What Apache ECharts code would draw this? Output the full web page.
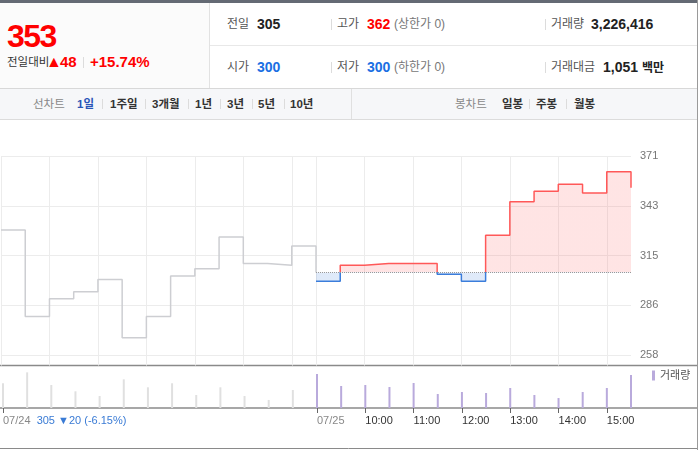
<!DOCTYPE html>
<html><head><meta charset="utf-8">
<script src="https://cdn.jsdelivr.net/npm/echarts@6/dist/echarts.min.js"></script>
<style>
*{margin:0;padding:0;box-sizing:border-box}
body{width:700px;height:450px;background:#fff;font-family:"Liberation Sans","Noto Sans CJK KR",sans-serif;overflow:hidden;position:relative}
.a{position:absolute;white-space:nowrap}
.r1{top:14px;height:20px;line-height:20px}
.r2{top:57px;height:20px;line-height:20px}
.lb{font-size:12px;color:#555}
.v{font-size:14px;font-weight:bold;color:#222}
.sm{font-size:12px;color:#777}
.sep{position:absolute;width:1px;background:#dcdcdc}
.tab{position:absolute;top:96px;height:16px;line-height:16px;font-size:11.5px;font-weight:bold;color:#333;white-space:nowrap}
#chart{position:absolute;left:0;top:120px;width:700px;height:330px}
</style></head><body>
<!-- header -->
<div class="a" style="left:0;top:0;width:698px;height:3px;background:#646a74"></div>
<div class="a" style="left:0;top:3px;width:209px;height:85px;background:#fbfbfb"></div>
<div class="sep" style="left:209px;top:3px;height:85px;background:#e2e2e2"></div>
<div class="sep" style="left:697px;top:0;height:450px;background:#9a9a9a"></div>
<div class="a" style="left:210px;top:45px;width:487px;height:1px;background:#e8e8e8"></div>
<div class="a" style="left:0;top:88px;width:697px;height:1px;background:#d8d8d8"></div>
<div class="a" style="left:0;top:89px;width:697px;height:30px;background:#f6f7f9"></div>
<div class="a" style="left:0;top:119px;width:697px;height:1px;background:#dcdcdc"></div>
<div class="sep" style="left:351px;top:89px;height:30px;background:#e0e0e0"></div>

<div class="a" style="left:7px;top:20px;height:32px;line-height:32px;font-size:32px;font-weight:bold;color:#f00;letter-spacing:-1.5px">353</div>
<div class="a" style="left:7px;top:55px;height:14px;line-height:14px;font-size:11.5px;color:#333">전일대비</div>
<div class="a" style="left:46px;top:53px;height:18px;line-height:18px;font-size:16px;color:#f00">▲</div>
<div class="a" style="left:60px;top:54px;height:16px;line-height:16px;font-size:15px;font-weight:bold;color:#f00">48</div>
<div class="sep" style="left:83px;top:57px;height:11px"></div>
<div class="a" style="left:90px;top:54px;height:16px;line-height:16px;font-size:15px;font-weight:bold;color:#f00">+15.74%</div>

<div class="a r1 lb" style="left:227px">전일</div>
<div class="a r1 v" style="left:257px">305</div>
<div class="sep" style="left:331px;top:19px;height:11px"></div>
<div class="a r1 lb" style="left:337px">고가</div>
<div class="a r1 v" style="left:367px;color:#f00">362</div>
<div class="a r1 sm" style="left:394px">(상한가 0)</div>
<div class="sep" style="left:545px;top:19px;height:11px"></div>
<div class="a r1 lb" style="left:551px">거래량</div>
<div class="a r1 v" style="left:591px">3,226,416</div>

<div class="a r2 lb" style="left:227px">시가</div>
<div class="a r2 v" style="left:257px;color:#1a6fe3">300</div>
<div class="sep" style="left:331px;top:62px;height:11px"></div>
<div class="a r2 lb" style="left:337px">저가</div>
<div class="a r2 v" style="left:367px;color:#1a6fe3">300</div>
<div class="a r2 sm" style="left:394px">(하한가 0)</div>
<div class="sep" style="left:545px;top:62px;height:11px"></div>
<div class="a r2 lb" style="left:551px">거래대금</div>
<div class="a r2 v" style="left:603px">1,051 <span style="font-size:12px">백만</span></div>

<!-- tab bar -->
<div class="tab" style="left:33px;font-weight:normal;color:#888">선차트</div>
<div class="tab" style="left:77px;color:#2a56b8">1일</div>
<div class="sep" style="left:102px;top:99px;height:10px"></div>
<div class="tab" style="left:110px">1주일</div>
<div class="sep" style="left:145px;top:99px;height:10px"></div>
<div class="tab" style="left:152px">3개월</div>
<div class="sep" style="left:188px;top:99px;height:10px"></div>
<div class="tab" style="left:195px">1년</div>
<div class="sep" style="left:220px;top:99px;height:10px"></div>
<div class="tab" style="left:227px">3년</div>
<div class="sep" style="left:252px;top:99px;height:10px"></div>
<div class="tab" style="left:258px">5년</div>
<div class="sep" style="left:284px;top:99px;height:10px"></div>
<div class="tab" style="left:290px">10년</div>
<div class="tab" style="left:455px;font-weight:normal;color:#888">봉차트</div>
<div class="tab" style="left:502px">일봉</div>
<div class="sep" style="left:529px;top:99px;height:10px"></div>
<div class="tab" style="left:536px">주봉</div>
<div class="sep" style="left:566px;top:99px;height:10px"></div>
<div class="tab" style="left:574px">월봉</div>

<div id="chart"></div>
<script>
// ---- data ----
const sessionTimes = ['09:00','09:30','10:00','10:30','11:00','11:30','12:00','12:30','13:00','13:30','14:00','14:30','15:00','15:30'];
const prevDayPrice = [329,280,290,294,301,268,280,303,307,325,310,309,320,305];
const prevDayVolume = [283000,408000,263000,191000,137000,328000,237000,283000,149000,237000,137000,92000,206000,206000];
const todayPrice = [300,309,310,310,310,304,300,326,345,351,355,350,362,353];
const todayVolume = [389000,252000,263000,240000,286000,160000,183000,172000,229000,149000,114000,183000,229000,378000];
const prevClose = 305;
const yTickValues = [258, 286.25, 314.5, 342.75, 371];
const prevDayLabel = '07/24';
const todayLabel = '07/25';
const prevDaySummary = '305 ▼20 (-6.15%)';
const hourLabels = ['10:00','11:00','12:00','13:00','14:00','15:00'];
const gridHours = ['09:00','10:00','11:00','12:00','13:00','14:00','15:00'];

// ---- build ----
const DAY = 390;
const toMin = (t, off) => { const p = t.split(':').map(Number); return off + p[0]*60 + p[1] - 540; };
const prevData = sessionTimes.map((t,i)=>[toMin(t,0), prevDayPrice[i]]);
const todayData = sessionTimes.map((t,i)=>[toMin(t,DAY), todayPrice[i]]);
const prevVol = sessionTimes.map((t,i)=>[toMin(t,0), prevDayVolume[i]]);
const todayVol = sessionTimes.map((t,i)=>[toMin(t,DAY), todayVolume[i]]);
const gridVals = gridHours.map(t=>toMin(t,0)).concat(gridHours.map(t=>toMin(t,DAY)));
const labelMap = {};
labelMap[0] = '{d|' + prevDayLabel + '}  {b|' + prevDaySummary + '}';
labelMap[DAY] = '{d|' + todayLabel + '}';
hourLabels.forEach(h => { labelMap[toMin(h,DAY)] = h; });
const labelVals = Object.keys(labelMap).map(Number).sort((a,b)=>a-b);

const chart = echarts.init(document.getElementById('chart'));
chart.setOption({
  animation: false,
  textStyle: {fontFamily: '"Liberation Sans","Noto Sans CJK KR",sans-serif'},
  grid: [
    {left: 1, top: 36, width: 630, height: 209.5},
    {left: 1, top: 247.8, width: 630, height: 40.2}
  ],
  legend: {
    data: ['거래량'], left: 652, top: 250, icon: 'rect', itemWidth: 3, itemHeight: 10,
    padding: 0, itemGap: 0, selectedMode: false,
    textStyle: {fontSize: 11, color: '#555'}
  },
  xAxis: [
    {type: 'value', gridIndex: 0, min: 0, max: 2*DAY,
     axisLine: {show: false}, axisLabel: {show: false},
     axisTick: {show: false, customValues: gridVals},
     splitLine: {show: true, lineStyle: {color: '#ececec', width: 1}}},
    {type: 'value', gridIndex: 1, min: 0, max: 2*DAY,
     axisLine: {show: false}, splitLine: {show: false},
     axisTick: {show: true, customValues: labelVals, length: 5, lineStyle: {color: '#666', width: 1}},
     axisLabel: {show: true, customValues: labelVals, align: 'left', margin: 7, fontSize: 11, color: '#333',
       formatter: v => labelMap[v] || '',
       rich: {d: {color: '#888', fontSize: 11}, b: {color: '#3a7bd5', fontSize: 11}}}}
  ],
  yAxis: [
    {type: 'value', gridIndex: 0, position: 'right', min: 252.2, max: 371,
     axisLine: {show: false},
     axisTick: {show: false, customValues: yTickValues},
     axisLabel: {customValues: yTickValues, formatter: v => String(Math.round(v)), color: '#777', fontSize: 11, margin: 9},
     splitLine: {show: true, lineStyle: {color: '#ececec', width: 1}}},
    {type: 'value', gridIndex: 1, min: 0, max: 460000, show: false, splitLine: {show: false}}
  ],
  visualMap: {
    type: 'piecewise', show: false, seriesIndex: 1, dimension: 1,
    pieces: [{gte: 0, lt: prevClose, color: '#3b7ddb'}, {gte: prevClose, lte: 100000, color: '#ff5858'}]
  },
  series: [
    {type: 'line', name: 'prev', xAxisIndex: 0, yAxisIndex: 0, data: prevData, step: 'end',
     symbol: 'none', lineStyle: {color: '#cdced2', width: 1.5}, silent: true},
    {type: 'line', name: 'today', xAxisIndex: 0, yAxisIndex: 0, data: todayData, step: 'end',
     symbol: 'none', lineStyle: {width: 1.5}, areaStyle: {origin: prevClose, opacity: 0.16}, silent: true,
     markLine: {silent: true, symbol: 'none', label: {show: false},
       lineStyle: {color: '#999', type: 'dotted', width: 1},
       data: [[{coord: [DAY, prevClose]}, {coord: [2*DAY, prevClose]}]]}},
    {type: 'bar', name: 'prevVol', xAxisIndex: 1, yAxisIndex: 1, data: prevVol, barWidth: 2, barGap: '-100%',
     itemStyle: {color: '#e0e0e0'}, silent: true},
    {type: 'bar', name: '거래량', xAxisIndex: 1, yAxisIndex: 1, data: todayVol, barWidth: 2, barGap: '-100%',
     itemStyle: {color: '#b9aadc'}, silent: true}
  ],
  graphic: [
    {type: 'line', shape: {x1: 0, y1: 245.5, x2: 697, y2: 245.5}, style: {stroke: '#8a8a8a', lineWidth: 1.5}, silent: true},
    {type: 'line', shape: {x1: 0, y1: 288, x2: 697, y2: 288}, style: {stroke: '#8a8a8a', lineWidth: 1.5}, silent: true},
    {type: 'line', shape: {x1: 0, y1: 328.5, x2: 697, y2: 328.5}, style: {stroke: '#8a8a8a', lineWidth: 1}, silent: true}
  ]
});
</script>
</body></html>
